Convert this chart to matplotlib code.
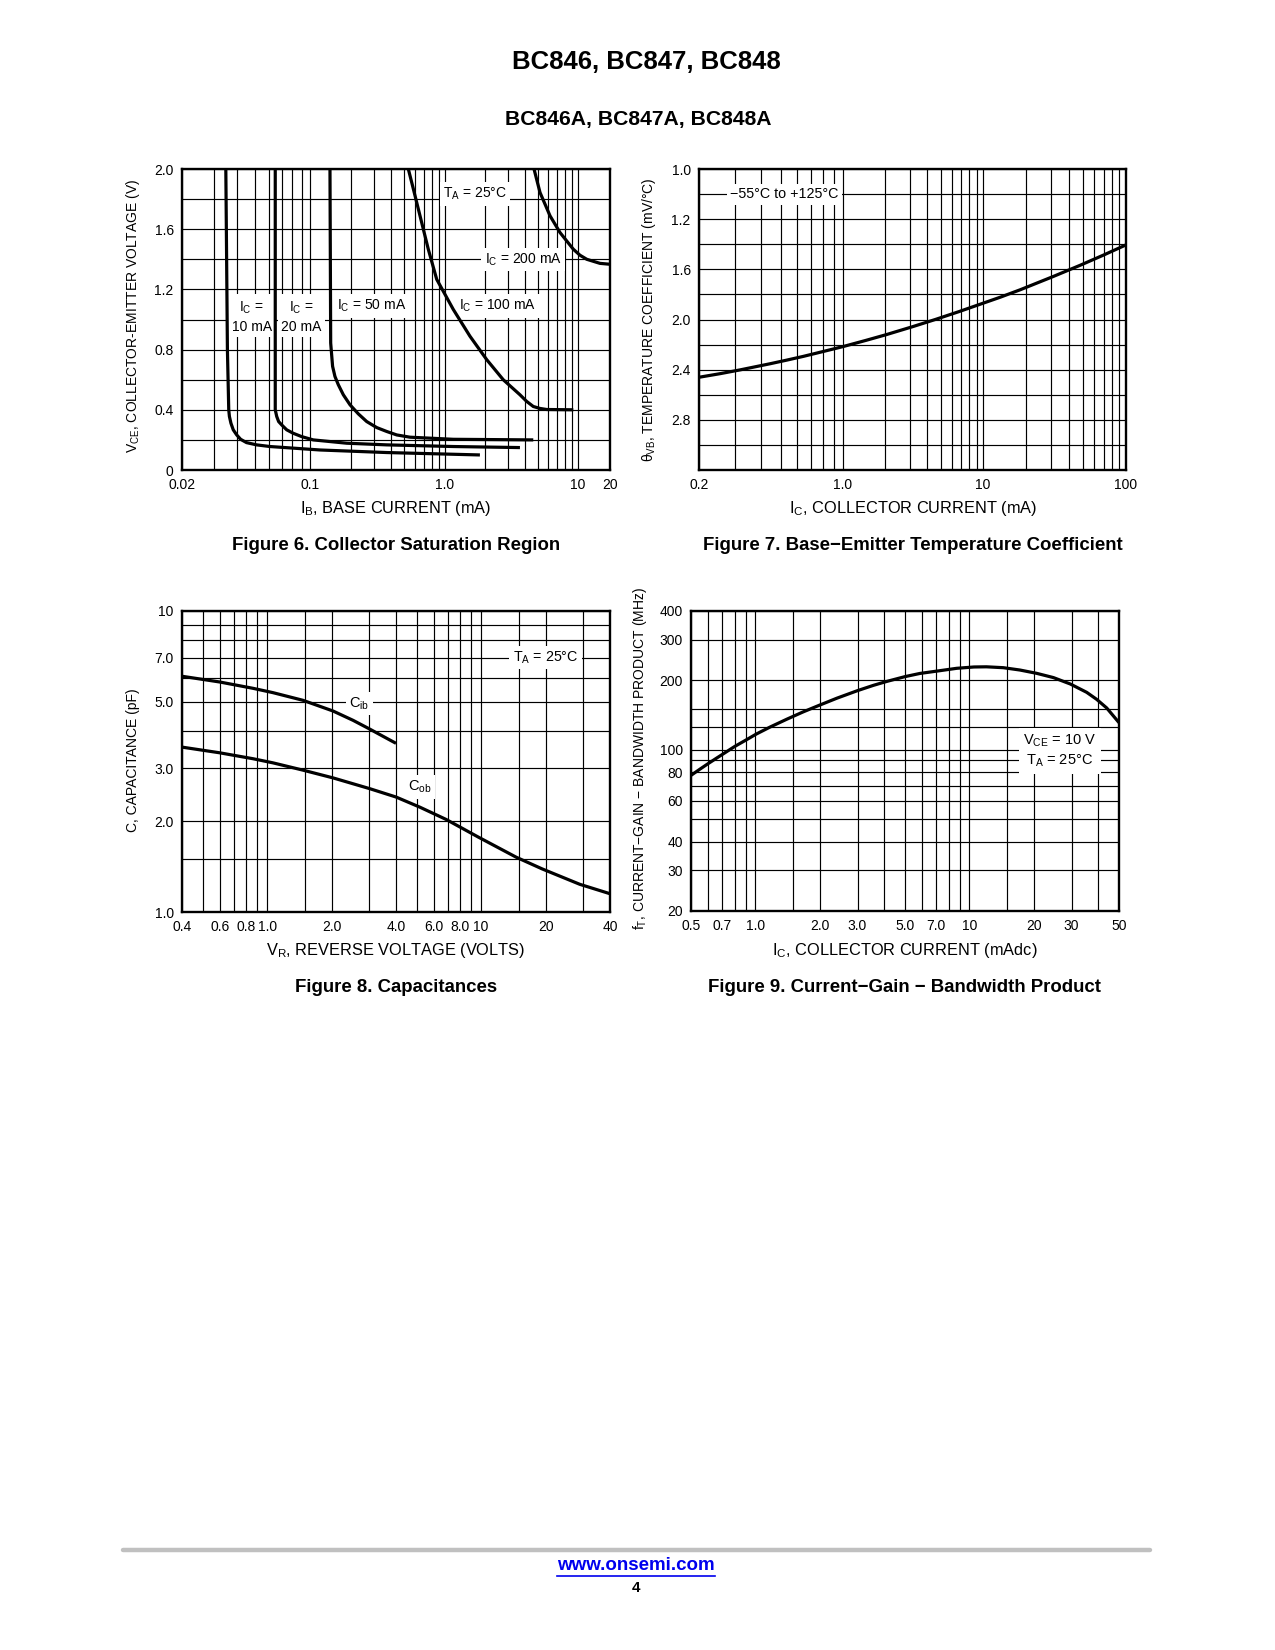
import numpy as np
import matplotlib
matplotlib.use("Agg")
import matplotlib.pyplot as plt
from matplotlib.lines import Line2D

plt.rcParams['font.family'] = ['Liberation Sans', 'DejaVu Sans']
plt.rcParams['mathtext.default'] = 'regular'

# ---------------- data ----------------
# Figure 6: Collector saturation region (IB in mA, VCE in V)
ib_10 = [0.0347, 0.0354, 0.036, 0.0363, 0.037, 0.0381, 0.0398, 0.0418, 0.045, 0.0511, 0.0604,
         0.1186, 0.370, 1.83]
vce_10 = [2.0, 0.8, 0.4, 0.356, 0.311, 0.267, 0.233, 0.204, 0.182, 0.167, 0.156,
          0.133, 0.116, 0.10]
ib_20 = [0.0646, 0.0646, 0.0658, 0.0674, 0.070, 0.0746, 0.081, 0.090, 0.1057, 0.187, 0.370,
         1.154, 3.66]
vce_20 = [2.0, 0.4, 0.356, 0.322, 0.30, 0.267, 0.244, 0.222, 0.20, 0.178, 0.167,
          0.156, 0.149]
ib_50 = [0.1406, 0.1423, 0.147, 0.153, 0.162, 0.1765, 0.198, 0.228, 0.263, 0.312, 0.370,
         0.439, 0.55, 1.154, 4.61]
vce_50 = [2.0, 0.844, 0.689, 0.622, 0.567, 0.50, 0.433, 0.373, 0.322, 0.282, 0.256,
          0.233, 0.218, 0.204, 0.20]
ib_100 = [0.535, 0.583, 0.653, 0.752, 0.868, 1.154, 1.54, 2.06, 2.74, 3.66, 4.11, 4.61,
          5.18, 5.82, 9.22]
vce_100 = [2.0, 1.867, 1.689, 1.467, 1.267, 1.067, 0.889, 0.733, 0.60, 0.50, 0.456, 0.422,
           0.409, 0.402, 0.40]
ib_200 = [4.67, 5.18, 6.16, 7.32, 9.22, 10.44, 12.1, 16.1, 20.0]
vce_200 = [2.0, 1.844, 1.689, 1.578, 1.467, 1.427, 1.40, 1.373, 1.367]
f6_xticks = [0.02, 0.1, 1.0, 10, 20]
f6_xticklabels = ['0.02', '0.1', '1.0', '10', '20']
f6_yticks = [0, 0.4, 0.8, 1.2, 1.6, 2.0]
f6_yticklabels = ['0', '0.4', '0.8', '1.2', '1.6', '2.0']

# Figure 7: Base-emitter temperature coefficient
ic7 = [0.201, 0.253, 0.316, 0.442, 0.533, 0.642, 0.802, 1.0, 1.452, 2.02, 3.126, 4.59, 6.74,
       9.39, 13.15, 18.2, 31.0, 47.7, 69.4, 100.0]
theta7 = [2.460, 2.432, 2.402, 2.353, 2.324, 2.294, 2.255, 2.216, 2.167, 2.122, 2.058, 1.999,
          1.937, 1.881, 1.823, 1.763, 1.657, 1.568, 1.487, 1.405]
f7_xticks = [0.2, 1.0, 10, 100]
f7_xticklabels = ['0.2', '1.0', '10', '100']
f7_yticks = [1.0, 1.2, 1.6, 2.0, 2.4, 2.8]
f7_yticklabels = ['1.0', '1.2', '1.6', '2.0', '2.4', '2.8']

# Figure 8: Capacitances (VR volts, C pF)
vr_cib = [0.4, 0.60, 0.859, 1.064, 1.47, 2.03, 2.52, 3.01, 3.48, 4.0]
c_ib = [6.07, 5.81, 5.535, 5.355, 5.05, 4.654, 4.333, 4.055, 3.834, 3.634]
vr_cob = [0.4, 0.60, 0.859, 1.064, 1.47, 2.03, 3.01, 4.0, 5.17, 6.86, 9.68, 14.6, 19.3, 28.9, 40.0]
c_ob = [3.53, 3.38, 3.23, 3.13, 2.96, 2.79, 2.57, 2.41, 2.23, 2.03, 1.775, 1.52, 1.39, 1.236, 1.15]
f8_xticks = [0.4, 0.6, 0.8, 1.0, 2.0, 4.0, 6.0, 8.0, 10, 20, 40]
f8_xticklabels = ['0.4', '0.6', '0.8', '1.0', '2.0', '4.0', '6.0', '8.0', '10', '20', '40']
f8_yticks = [1.0, 2.0, 3.0, 5.0, 7.0, 10]
f8_yticklabels = ['1.0', '2.0', '3.0', '5.0', '7.0', '10']

# Figure 9: Current-gain bandwidth product (IC mAdc, fT MHz)
ic9 = [0.5, 0.551, 0.602, 0.659, 0.734, 0.80, 0.910, 1.01, 1.17, 1.40, 1.67, 1.99, 2.40, 3.0,
       3.56, 4.11, 5.0, 5.87, 7.3, 8.72, 10.5, 12.0, 14.4, 17.2, 20.6, 24.7, 29.6, 35.3,
       39.3, 43.8, 50.0]
ft9 = [77.5, 82.5, 87.2, 92.1, 98.2, 103.4, 110.7, 117.1, 125.5, 135.7, 146.0, 156.1, 167.4,
       180.6, 190.4, 198.0, 207.7, 214.4, 220.5, 225.7, 228.7, 229.1, 227.1, 221.9, 214.7,
       205.7, 193.0, 177.6, 165.6, 151.9, 131.2]
f9_xticks = [0.5, 0.7, 1.0, 2.0, 3.0, 5.0, 7.0, 10, 20, 30, 50]
f9_xticklabels = ['0.5', '0.7', '1.0', '2.0', '3.0', '5.0', '7.0', '10', '20', '30', '50']
f9_yticks = [20, 30, 40, 60, 80, 100, 200, 300, 400]
f9_yticklabels = ['20', '30', '40', '60', '80', '100', '200', '300', '400']

# ---------------- helpers ----------------
W, H = 1275, 1650
fig = plt.figure(figsize=(W / 100, H / 100), dpi=100)


def fx(x):
    return x / W


def fy(y):
    return 1 - y / H


def ax_at(l, t, r, b):
    return fig.add_axes([l / W, 1 - b / H, (r - l) / W, (b - t) / H])


def piecewise_funcs(vals, pos, logspace=True):
    """Piecewise (log) axis calibration as drawn on the datasheet."""
    lv = np.log10(vals) if logspace else np.asarray(vals, float)
    p = np.asarray(pos, float)

    def _map(u, a, b):
        y = np.interp(u, a, b)
        y = np.where(u < a[0], b[0] + (u - a[0]) * (b[1] - b[0]) / (a[1] - a[0]), y)
        y = np.where(u > a[-1], b[-1] + (u - a[-1]) * (b[-1] - b[-2]) / (a[-1] - a[-2]), y)
        return y

    def fwd(x):
        x = np.asarray(x, float)
        u = np.log10(np.clip(x, 1e-12, None)) if logspace else x
        return _map(u, lv, p)

    def inv(y):
        y = np.asarray(y, float)
        u = _map(y, p, lv)
        return 10 ** u if logspace else u

    return (fwd, inv)


LW_CURVE = 2.3
LW_GRID = 0.85
TICK_FS = 10
XLABEL_FS = 11.8
YLABEL_FS = 10
ANN_FS = 10
CAP_FS = 13.4


def style(ax):
    for s in ax.spines.values():
        s.set_linewidth(1.7)
        s.set_zorder(7)
    ax.tick_params(which='both', length=0, pad=6, labelsize=TICK_FS)
    ax.grid(True, which='both', color='black', linewidth=LW_GRID)
    ax.set_axisbelow(True)


def curve(ax, xs, ys):
    ax.plot(xs, ys, color='black', lw=LW_CURVE, solid_joinstyle='round',
            solid_capstyle='butt', zorder=6)


def label(ax, x, y, s, fs=ANN_FS, **kw):
    ax.text(x, y, s, ha='center', va='center', fontsize=fs, zorder=5,
            bbox=dict(facecolor='white', edgecolor='none', pad=2.5), **kw)


# ---------------- Figure 6 ----------------
ax6 = ax_at(182, 169, 610, 470)
ax6.set_xscale('function', functions=piecewise_funcs([0.02, 0.1, 1, 10, 20], [0, 128, 263, 396, 428]))
ax6.set_xlim(0.02, 20)
ax6.set_ylim(0, 2.0)
minor6 = [0.03, 0.04, 0.05, 0.06, 0.07, 0.08, 0.09, 0.2, 0.3, 0.4, 0.5, 0.6, 0.7, 0.8, 0.9,
          2, 3, 4, 5, 6, 7, 8, 9]
ax6.set_xticks(f6_xticks)
ax6.set_xticklabels(f6_xticklabels)
ax6.set_xticks(minor6, minor=True)
ax6.set_xticklabels([], minor=True)
ax6.set_yticks(f6_yticks)
ax6.set_yticklabels(f6_yticklabels)
ax6.set_yticks([0.2, 0.6, 1.0, 1.4, 1.8], minor=True)
ax6.set_yticklabels([], minor=True)
style(ax6)
for xs, ys in [(ib_10, vce_10), (ib_20, vce_20), (ib_50, vce_50), (ib_100, vce_100), (ib_200, vce_200)]:
    curve(ax6, xs, ys)
label(ax6, 1.68, 1.833, r'$T_A$ = 25°C')
label(ax6, 3.88, 1.40, r'$I_C$ = 200 mA')
label(ax6, 2.5, 1.089, r'$I_C$ = 100 mA')
label(ax6, 0.286, 1.089, r'$I_C$ = 50 mA')
label(ax6, 0.090, 1.02, '$I_C$ =\n20 mA', linespacing=1.35)
label(ax6, 0.048, 1.02, '$I_C$ =\n10 mA', linespacing=1.35)

# ---------------- Figure 7 ----------------
ax7 = ax_at(699, 169, 1126, 470)
ax7.set_xscale('function', functions=piecewise_funcs([0.2, 1, 10, 100], [0, 144, 284, 427]))
ax7.set_yscale('function', functions=piecewise_funcs([1.0, 1.2, 3.2], [0, 50, 300], logspace=False))
ax7.set_xlim(0.2, 100)
ax7.set_ylim(3.2, 1.0)
minor7 = [0.3, 0.4, 0.5, 0.6, 0.7, 0.8, 0.9, 2, 3, 4, 5, 6, 7, 8, 9,
          20, 30, 40, 50, 60, 70, 80, 90]
ax7.set_xticks(f7_xticks)
ax7.set_xticklabels(f7_xticklabels)
ax7.set_xticks(minor7, minor=True)
ax7.set_xticklabels([], minor=True)
ax7.set_yticks(f7_yticks)
ax7.set_yticklabels(f7_yticklabels)
ax7.set_yticks([1.1, 1.4, 1.8, 2.2, 2.6, 3.0, 3.2], minor=True)
ax7.set_yticklabels([], minor=True)
style(ax7)
curve(ax7, ic7, theta7)
label(ax7, 0.52, 1.1, '−55°C to +125°C', fs=10.3)

# ---------------- Figure 8 ----------------
ax8 = ax_at(182, 611, 610, 912)
ax8.set_xscale('log')
ax8.set_yscale('log')
ax8.set_xlim(0.4, 40)
ax8.set_ylim(1.0, 10)
ax8.set_xticks(f8_xticks)
ax8.set_xticklabels(f8_xticklabels)
ax8.set_xticks([0.5, 0.7, 0.9, 1.5, 3, 5, 7, 9, 15, 30], minor=True)
ax8.set_xticklabels([], minor=True)
ax8.set_yticks(f8_yticks)
ax8.set_yticklabels(f8_yticklabels)
ax8.set_yticks([1.5, 4, 6, 8, 9], minor=True)
ax8.set_yticklabels([], minor=True)
style(ax8)
curve(ax8, vr_cib, c_ib)
curve(ax8, vr_cob, c_ob)
label(ax8, 20, 7.0, r'$T_A$ = 25°C', fs=10.3)
label(ax8, 2.7, 4.92, r'$C_{ib}$', fs=10.5)
label(ax8, 5.17, 2.6, r'$C_{ob}$', fs=10.5)

# ---------------- Figure 9 ----------------
ax9 = ax_at(691, 611, 1119, 911)
ax9.set_xscale('log')
ax9.set_yscale('log')
ax9.set_xlim(0.5, 50)
ax9.set_ylim(20, 400)
ax9.set_xticks(f9_xticks)
ax9.set_xticklabels(f9_xticklabels)
ax9.set_xticks([0.6, 0.8, 0.9, 1.5, 4, 6, 8, 9, 15, 40], minor=True)
ax9.set_xticklabels([], minor=True)
ax9.set_yticks(f9_yticks)
ax9.set_yticklabels(f9_yticklabels)
ax9.set_yticks([50, 70, 90, 125, 150], minor=True)
ax9.set_yticklabels([], minor=True)
style(ax9)
curve(ax9, ic9, ft9)
ax9.text(26.5, 99, '$V_{CE}$ = 10 V\n$T_A$ = 25°C', ha='center', va='center',
         fontsize=10.5, linespacing=1.35, zorder=5,
         bbox=dict(facecolor='white', edgecolor='none', pad=3))


# ---------------- axis labels ----------------
def ftext(x, y, s, **kw):
    fig.text(fx(x), fy(y), s, ha='center', va='center', **kw)


ftext(396, 509, r'$I_B$, BASE CURRENT (mA)', fontsize=XLABEL_FS)
ftext(133, 316, r'$V_{CE}$, COLLECTOR-EMITTER VOLTAGE (V)', fontsize=YLABEL_FS, rotation=90)
ftext(913, 509, r'$I_C$, COLLECTOR CURRENT (mA)', fontsize=XLABEL_FS)
ftext(649, 320, r'θ$_{VB}$, TEMPERATURE COEFFICIENT (mV/°C)', fontsize=YLABEL_FS, rotation=90)
ftext(396, 950, r'$V_R$, REVERSE VOLTAGE (VOLTS)', fontsize=XLABEL_FS)
ftext(133, 760, 'C, CAPACITANCE (pF)', fontsize=YLABEL_FS, rotation=90)
ftext(905, 950, r'$I_C$, COLLECTOR CURRENT (mAdc)', fontsize=XLABEL_FS)
ftext(640, 759, r'$f_T$, CURRENT−GAIN − BANDWIDTH PRODUCT (MHz)', fontsize=YLABEL_FS, rotation=90)

# captions and titles
ftext(396, 545, 'Figure 6. Collector Saturation Region', fontsize=CAP_FS, fontweight='bold')
ftext(913, 545, 'Figure 7. Base−Emitter Temperature Coefficient', fontsize=CAP_FS, fontweight='bold')
ftext(396, 987, 'Figure 8. Capacitances', fontsize=CAP_FS, fontweight='bold')
ftext(905, 987, 'Figure 9. Current−Gain − Bandwidth Product', fontsize=CAP_FS, fontweight='bold')
ftext(646, 62, 'BC846, BC847, BC848', fontsize=18.5, fontweight='bold')
ftext(638, 120, 'BC846A, BC847A, BC848A', fontsize=15.2, fontweight='bold')

# footer
fig.add_artist(Line2D([fx(123), fx(1150)], [fy(1550), fy(1550)], color='#c0c0c0',
                      lw=3.2, solid_capstyle='round'))
ftext(636, 1566, 'www.onsemi.com', fontsize=13.5, fontweight='bold', color='#0000ee')
fig.add_artist(Line2D([fx(557), fx(715)], [fy(1576), fy(1576)], color='#0000ee', lw=1.2))
ftext(636, 1588, '4', fontsize=11, fontweight='bold')

fig.savefig('out.png', dpi=100, facecolor='white')
